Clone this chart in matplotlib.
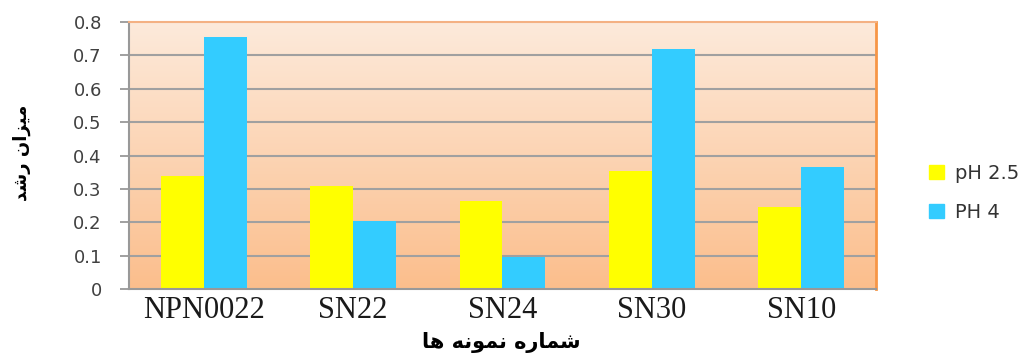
import matplotlib
matplotlib.use("Agg")
import matplotlib.pyplot as plt
import numpy as np
from matplotlib.colors import LinearSegmentedColormap
from matplotlib.patches import Patch

samples = ["NPN0022", "SN22", "SN24", "SN30", "SN10"]
ph25 = [0.34, 0.31, 0.265, 0.355, 0.245]
ph4 = [0.755, 0.205, 0.095, 0.72, 0.365]
yticks = [0, 0.1, 0.2, 0.3, 0.4, 0.5, 0.6, 0.7, 0.8]
ylabel_fa = "میزان رشد"
xlabel_fa = "شماره نمونه ها"

# Arabic presentation forms: (isolated, final, initial, medial)
FORMS = {
    "ا": ("\uFE8D", "\uFE8E", None, None),
    "د": ("\uFEA9", "\uFEAA", None, None),
    "ر": ("\uFEAD", "\uFEAE", None, None),
    "ز": ("\uFEAF", "\uFEB0", None, None),
    "و": ("\uFEED", "\uFEEE", None, None),
    "ش": ("\uFEB5", "\uFEB6", "\uFEB7", "\uFEB8"),
    "م": ("\uFEE1", "\uFEE2", "\uFEE3", "\uFEE4"),
    "ن": ("\uFEE5", "\uFEE6", "\uFEE7", "\uFEE8"),
    "ه": ("\uFEE9", "\uFEEA", "\uFEEB", "\uFEEC"),
    "ی": ("\uFBFC", "\uFBFD", "\uFEF3", "\uFEF4"),
}


def shape_fa(s):
    out = []
    for i, ch in enumerate(s):
        if ch not in FORMS:
            out.append(ch)
            continue
        prev = s[i - 1] if i > 0 else None
        nxt = s[i + 1] if i + 1 < len(s) else None
        join_prev = prev in FORMS and FORMS[prev][2] is not None
        join_next = nxt in FORMS and FORMS[ch][2] is not None
        iso, fin, ini, med = FORMS[ch]
        if join_prev and join_next:
            out.append(med)
        elif join_prev:
            out.append(fin)
        elif join_next:
            out.append(ini)
        else:
            out.append(iso)
    return "".join(out)[::-1]


fig = plt.figure(figsize=(10.3, 3.54), dpi=100)
ax = fig.add_axes([0.1252, 0.1836, 0.7252, 0.7542])

# peach gradient behind the bars
grad = np.linspace(0, 1, 256).reshape(-1, 1)
cmap = LinearSegmentedColormap.from_list("peach", ["#FDEADB", "#FBBE8C"])
ax.imshow(grad, aspect="auto", cmap=cmap, extent=[0, 1, 0, 1],
          transform=ax.transAxes, zorder=0)

x = np.arange(len(samples))
w = 0.287
ax.bar(x - w / 2, ph25, w, color="#FFFF00", zorder=3, label="pH 2.5")
ax.bar(x + w / 2, ph4, w, color="#33CCFF", zorder=3, label="PH 4")

ax.set_xlim(-0.5, len(samples) - 0.5)
ax.set_ylim(0, 0.8)
ax.set_yticks(yticks)
ax.set_yticklabels([f"{t:g}" for t in yticks], fontsize=13, color="#404040")
ax.set_xticks(x)
ax.set_xticklabels(samples, fontsize=22, family="Liberation Serif", color="#1a1a1a")
ax.tick_params(axis="x", length=0, pad=5)
ax.tick_params(axis="y", length=6.5, width=1.3, color="#999999", pad=13)
for t in yticks[1:-1]:
    ax.axhline(t, color="#A0A0A0", linewidth=1.5, zorder=1)

for side in ("left", "bottom"):
    ax.spines[side].set_color("#999999")
    ax.spines[side].set_linewidth(1.5)
ax.spines["top"].set_color("#F4B183")
ax.spines["top"].set_linewidth(1.5)
ax.spines["right"].set_color("#F79646")
ax.spines["right"].set_linewidth(2)
for sp in ax.spines.values():
    sp.set_zorder(5)

fig.text(0.021, 0.567, shape_fa(ylabel_fa), rotation=90, ha="center", va="center",
         fontsize=13, fontweight="bold", family=["DejaVu Sans"])
fig.text(0.487, 0.033, shape_fa(xlabel_fa), ha="center", va="center",
         fontsize=15, fontweight="bold", family=["DejaVu Sans"])

handles = [Patch(color="#FFFF00"), Patch(color="#33CCFF")]
fig.legend(handles, ["pH 2.5", "PH 4"], loc="center left",
           bbox_to_anchor=(0.885, 0.455), frameon=False, fontsize=14,
           handlelength=0.75, handleheight=0.75, labelspacing=1.05,
           handletextpad=0.6, labelcolor="#333333")

fig.savefig("out.png", dpi=100)
